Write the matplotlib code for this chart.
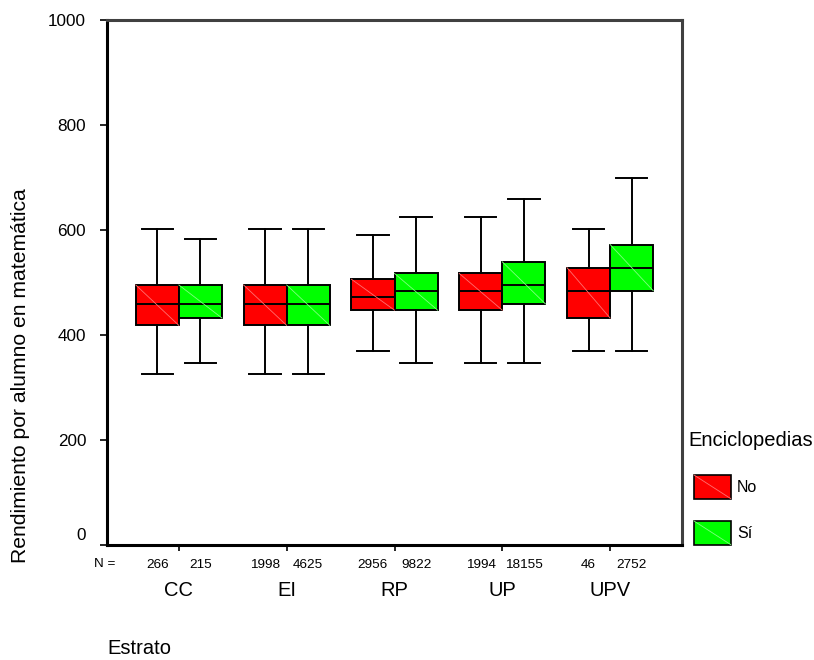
import matplotlib
matplotlib.use("Agg")
import matplotlib.pyplot as plt
import matplotlib.transforms as mtransforms
from matplotlib.patches import Patch, Rectangle
from matplotlib.lines import Line2D
from matplotlib.legend_handler import HandlerPatch

plt.rcParams['font.family'] = ['Liberation Sans', 'DejaVu Sans']

# ---- data ----
estratos = ["CC", "EI", "RP", "UP", "UPV"]
series_names = ["No", "Sí"]
legend_title = "Enciclopedias"
series_colors = ["#FF0000", "#00FF00"]
diag_colors = ["#FF7070", "#80FF80"]

# whisker low, q1, median, q3, whisker high
no_low = [325, 325, 369, 347, 369]
no_q1 = [418, 418, 447, 447, 432]
no_med = [459, 459, 473, 484, 484]
no_q3 = [495, 495, 506, 517, 528]
no_high = [602, 602, 591, 624, 602]

si_low = [347, 325, 347, 347, 369]
si_q1 = [432, 418, 447, 459, 484]
si_med = [459, 459, 484, 495, 528]
si_q3 = [495, 495, 517, 539, 572]
si_high = [582, 602, 624, 659, 698]

n_no = [266, 1998, 2956, 1994, 46]
n_si = [215, 4625, 9822, 18155, 2752]

yticks = [0, 200, 400, 600, 800, 1000]


class HandlerDiagPatch(HandlerPatch):
    def __init__(self, diag_color, **kw):
        super().__init__(**kw)
        self.diag_color = diag_color

    def create_artists(self, legend, orig_handle, xdescent, ydescent, width, height,
                       fontsize, trans):
        rect = Rectangle((-xdescent, -ydescent), width, height,
                         facecolor=orig_handle.get_facecolor(),
                         edgecolor=orig_handle.get_edgecolor(),
                         linewidth=orig_handle.get_linewidth(), transform=trans)
        line = Line2D([-xdescent, -xdescent + width], [-ydescent + height, -ydescent],
                      color=self.diag_color, linewidth=0.6, transform=trans)
        return [rect, line]


# ---- figure ----
W, H = 814, 660
fig = plt.figure(figsize=(W / 100, H / 100), dpi=100)
ax_l, ax_r, ax_t, ax_b = 107, 682, 19.7, 545
AW, AH = ax_r - ax_l, ax_b - ax_t
ax = fig.add_axes([ax_l / W, 1 - ax_b / H, AW / W, AH / H])

groups = [
    (no_low, no_q1, no_med, no_q3, no_high),
    (si_low, si_q1, si_med, si_q3, si_high),
]
offset = 0.2
bw = 0.4
for s, (lo, q1, med, q3, hi) in enumerate(groups):
    stats = []
    for i in range(len(estratos)):
        stats.append(dict(whislo=lo[i], q1=q1[i], med=med[i], q3=q3[i], whishi=hi[i], fliers=[]))
    pos = [i + 1 + (offset if s else -offset) for i in range(len(estratos))]
    ax.bxp(stats, positions=pos, widths=bw, patch_artist=True, showfliers=False,
           manage_ticks=False,
           boxprops=dict(facecolor=series_colors[s], edgecolor="black", linewidth=1.4),
           medianprops=dict(color="black", linewidth=1.4),
           whiskerprops=dict(color="black", linewidth=1.4),
           capprops=dict(color="black", linewidth=1.4),
           capwidths=0.29, zorder=3)
    for i, p in enumerate(pos):
        ax.plot([p - bw / 2, p + bw / 2], [q3[i], q1[i]], color=diag_colors[s],
                linewidth=0.6, zorder=3.5)

ax.set_xlim(1 / 3, 5 + 2 / 3)
ax.set_ylim(0, 1000)
ax.set_yticks(yticks)
ax.set_yticklabels([str(v) for v in yticks], fontsize=12.3)
ax.tick_params(axis="y", direction="out", length=5, width=1.2, pad=10)

# raise the "0" label like the original
lbl0 = ax.get_yticklabels()[0]
lbl0.set_transform(lbl0.get_transform() + mtransforms.ScaledTranslation(0, 8 / 72, fig.dpi_scale_trans))

ax.set_xticks(range(1, len(estratos) + 1))
ax.set_xticklabels(estratos, fontsize=14.5)
ax.tick_params(axis="x", which="major", direction="out", length=4, width=1.2, pad=22)

minor_pos = []
minor_lbl = []
for i in range(len(estratos)):
    minor_pos += [i + 1 - offset, i + 1 + offset]
    minor_lbl += [str(n_no[i]), str(n_si[i])]
ax.set_xticks(minor_pos, minor=True)
ax.set_xticklabels(minor_lbl, minor=True, fontsize=9.7)
ax.tick_params(axis="x", which="minor", length=0, pad=10)

ax.text((105 - ax_l) / AW, -19 / AH, "N =", transform=ax.transAxes, fontsize=9.7,
        ha="center", va="center")

for sp in ["left", "bottom"]:
    ax.spines[sp].set_linewidth(2.2)
    ax.spines[sp].set_color("black")
for sp in ["top", "right"]:
    ax.spines[sp].set_linewidth(2.2)
    ax.spines[sp].set_color("#404040")

ax.set_ylabel("Rendimiento por alumno en matemática", fontsize=15.2)
ax.yaxis.set_label_coords(-(ax_l - 30) / AW, (ax_b - 376) / AH)
ax.set_xlabel("Estrato", fontsize=14.5, ha="left")
ax.xaxis.set_label_coords(0, -(639 - ax_b) / AH)

fig.text(688 / W, 1 - 440 / H, legend_title, fontsize=14.5, ha="left", va="center")
handles = [Patch(facecolor=c, edgecolor="black", linewidth=1.2) for c in series_colors]
handler_map = {handles[k]: HandlerDiagPatch(diag_colors[k]) for k in range(len(handles))}
leg = fig.legend(handles, series_names, loc="upper left", handler_map=handler_map,
                 bbox_to_anchor=(694 / W, 1 - 475 / H), frameon=False, fontsize=11.5,
                 handlelength=2.3, handleheight=1.9,
                 handletextpad=0.4, labelspacing=1.4, borderpad=0, borderaxespad=0)

fig.savefig("out.png", dpi=100)
